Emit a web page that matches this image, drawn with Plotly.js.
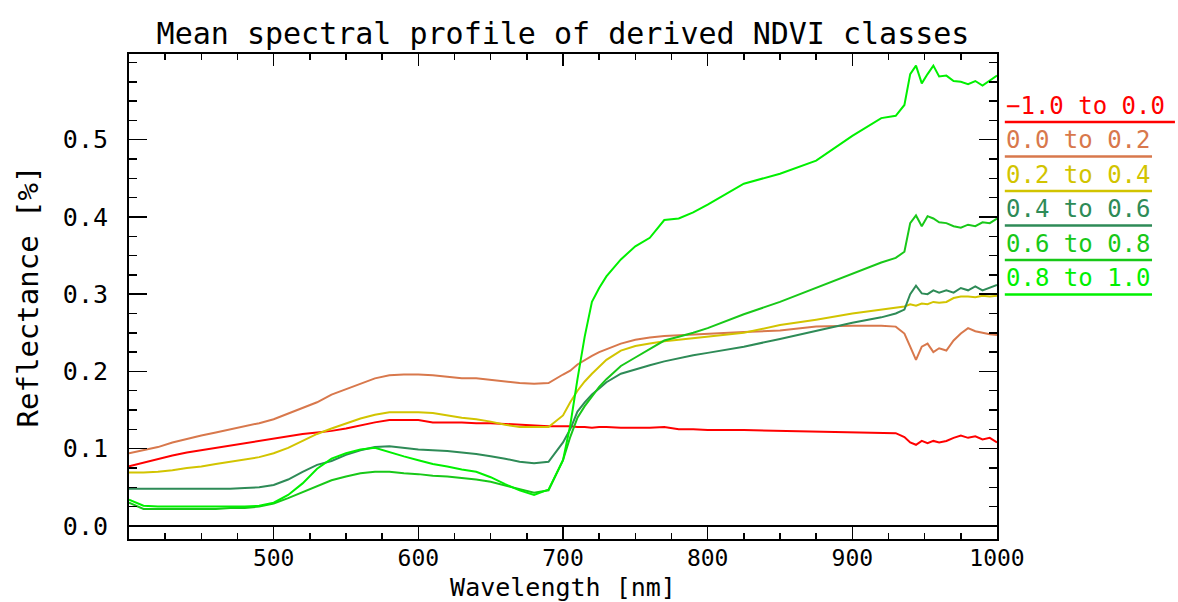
<!DOCTYPE html>
<html>
<head>
<meta charset="utf-8">
<script src="https://cdn.plot.ly/plotly-3.0.1.min.js"></script>
<style>html,body{margin:0;padding:0;background:#fff;}</style>
</head>
<body>
<div id="chart" style="width:1178px;height:602px;"></div>
<script>
// Wavelengths (nm)
const wavelength = [400,410,420,430,440,450,460,470,480,490,500,510,520,530,540,550,560,570,580,590,600,610,620,630,640,650,660,670,680,690,700,705,710,715,720,725,730,740,750,760,770,780,790,800,825,850,875,900,920,930,936,940,944,948,952,956,960,965,970,975,980,985,990,995,1000];

// Class names
const classNames = ["\u22121.0 to 0.0","0.0 to 0.2","0.2 to 0.4","0.4 to 0.6","0.6 to 0.8","0.8 to 1.0"];

// Mean reflectance per NDVI class
const ndviNeg   = [0.077,0.082,0.087,0.091,0.095,0.098,0.101,0.104,0.107,0.110,0.113,0.116,0.119,0.121,0.123,0.126,0.130,0.134,0.137,0.137,0.137,0.134,0.134,0.134,0.133,0.133,0.132,0.131,0.130,0.129,0.129,0.129,0.128,0.128,0.127,0.128,0.128,0.127,0.127,0.127,0.128,0.125,0.125,0.124,0.124,0.123,0.122,0.121,0.121,0.120,0.115,0.108,0.105,0.110,0.107,0.110,0.108,0.110,0.114,0.117,0.114,0.116,0.112,0.114,0.108];
const ndvi00_02 = [0.094,0.098,0.102,0.108,0.113,0.117,0.121,0.125,0.129,0.133,0.138,0.145,0.152,0.160,0.170,0.177,0.185,0.191,0.195,0.196,0.196,0.195,0.193,0.191,0.191,0.189,0.187,0.185,0.184,0.185,0.196,0.201,0.209,0.215,0.220,0.225,0.229,0.236,0.241,0.244,0.246,0.247,0.248,0.249,0.251,0.253,0.258,0.259,0.259,0.258,0.249,0.232,0.215,0.232,0.236,0.225,0.230,0.227,0.240,0.249,0.256,0.252,0.250,0.248,0.247];
const ndvi02_04 = [0.069,0.069,0.070,0.072,0.075,0.077,0.080,0.083,0.086,0.089,0.094,0.101,0.110,0.119,0.126,0.133,0.139,0.144,0.147,0.147,0.147,0.146,0.143,0.140,0.138,0.135,0.131,0.128,0.128,0.128,0.143,0.160,0.175,0.187,0.197,0.206,0.215,0.227,0.233,0.236,0.239,0.241,0.243,0.245,0.250,0.260,0.267,0.275,0.280,0.283,0.284,0.287,0.285,0.288,0.287,0.290,0.289,0.290,0.295,0.297,0.297,0.296,0.298,0.297,0.298];
const ndvi04_06 = [0.048,0.048,0.048,0.048,0.048,0.048,0.048,0.048,0.049,0.050,0.053,0.060,0.070,0.079,0.084,0.092,0.098,0.102,0.103,0.101,0.099,0.098,0.097,0.095,0.093,0.090,0.087,0.083,0.081,0.083,0.108,0.125,0.148,0.160,0.170,0.178,0.186,0.197,0.203,0.208,0.213,0.217,0.221,0.224,0.232,0.242,0.252,0.263,0.270,0.275,0.280,0.300,0.311,0.301,0.300,0.305,0.302,0.305,0.302,0.308,0.305,0.310,0.305,0.309,0.312];
const ndvi06_08 = [0.030,0.022,0.022,0.022,0.022,0.022,0.022,0.023,0.023,0.025,0.029,0.036,0.044,0.052,0.059,0.064,0.068,0.070,0.070,0.068,0.067,0.065,0.064,0.062,0.060,0.057,0.052,0.047,0.043,0.046,0.085,0.115,0.140,0.155,0.168,0.180,0.190,0.207,0.218,0.229,0.240,0.245,0.250,0.256,0.274,0.290,0.308,0.326,0.341,0.347,0.355,0.392,0.402,0.388,0.401,0.398,0.393,0.392,0.388,0.386,0.390,0.388,0.393,0.392,0.398];
const ndvi08_10 = [0.034,0.026,0.025,0.025,0.025,0.025,0.025,0.025,0.025,0.026,0.030,0.040,0.055,0.074,0.087,0.094,0.099,0.101,0.096,0.090,0.085,0.080,0.077,0.073,0.070,0.063,0.054,0.046,0.040,0.047,0.085,0.130,0.190,0.245,0.290,0.308,0.323,0.345,0.362,0.373,0.396,0.398,0.406,0.416,0.443,0.456,0.473,0.505,0.528,0.531,0.545,0.585,0.596,0.573,0.585,0.596,0.582,0.583,0.576,0.575,0.572,0.576,0.570,0.577,0.583];

const seriesValues = [ndviNeg, ndvi00_02, ndvi02_04, ndvi04_06, ndvi06_08, ndvi08_10];
const colors = ["#ff0000","#d8784c","#d2c400","#2e8b57","#18c818","#00f000"];

// Tick labels
const xTicks = [500,600,700,800,900,1000];
const yTicks = [0.0,0.1,0.2,0.3,0.4,0.5];
const yTickText = ["0.0","0.1","0.2","0.3","0.4","0.5"];

const FONT = "'DejaVu Sans Mono', monospace";

const traces = seriesValues.map((vals, i) => ({
  type: "scatter", mode: "lines", x: wavelength, y: vals, name: classNames[i],
  line: {color: colors[i], width: 2}, showlegend: false, hoverinfo: "skip"
}));

// Custom legend (coloured text with underline)
const legTop = 0.8598, legStep = 0.0711;
const annotations = [];
const shapes = [];
classNames.forEach((name, i) => {
  const yLine = legTop - i * legStep;
  annotations.push({
    xref: "paper", yref: "paper", x: 1.008, y: yLine + 0.033, xanchor: "left", yanchor: "middle",
    text: name, showarrow: false, font: {family: FONT, size: 24, color: colors[i]}
  });
  shapes.push({
    type: "line", xref: "paper", yref: "paper", x0: 1.009, x1: i === 0 ? 1.205 : 1.1786,
    y0: yLine, y1: yLine, line: {color: colors[i], width: 2.5}
  });
});

const layout = {
  width: 1178, height: 602,
  margin: {l: 129, r: 181, t: 54, b: 63},
  paper_bgcolor: "#fff", plot_bgcolor: "#fff",
  font: {family: FONT, color: "#000"},
  title: {text: "Mean spectral profile of derived NDVI classes", font: {family: FONT, size: 30, color: "#000"},
          x: 0.5, xref: "paper", y: 0.945, yref: "container", yanchor: "middle"},
  xaxis: {
    range: [400, 1000], tickvals: xTicks, ticktext: xTicks.map(String),
    ticks: "inside", ticklen: 12, tickwidth: 1.5, tickcolor: "#000",
    minor: {dtick: 25, tick0: 400, ticks: "inside", ticklen: 6, tickwidth: 1.5, tickcolor: "#000", showgrid: false},
    showline: true, linecolor: "#000", linewidth: 2, mirror: "allticks",
    showgrid: false, zeroline: false, automargin: false,
    ticklabelstandoff: -3,
    tickfont: {family: FONT, size: 23, color: "#000"},
    title: {text: "Wavelength [nm]", font: {family: FONT, size: 25, color: "#000"}, standoff: 9}
  },
  yaxis: {
    range: [-0.017, 0.611], tickvals: yTicks, ticktext: yTickText,
    ticks: "inside", ticklen: 18, tickwidth: 1.5, tickcolor: "#000",
    minor: {dtick: 0.025, tick0: 0, ticks: "inside", ticklen: 8, tickwidth: 1.5, tickcolor: "#000", showgrid: false},
    showline: true, linecolor: "#000", linewidth: 2, mirror: "allticks",
    showgrid: false, zeroline: true, zerolinecolor: "#000", zerolinewidth: 1.5, automargin: false,
    ticklabelstandoff: 14,
    tickfont: {family: FONT, size: 25, color: "#000"},
    title: {text: "Reflectance [%]", font: {family: FONT, size: 29, color: "#000"}, standoff: 16}
  },
  annotations: annotations,
  shapes: shapes
};

Plotly.newPlot("chart", traces, layout, {displayModeBar: false, staticPlot: true});
</script>
</body>
</html>
